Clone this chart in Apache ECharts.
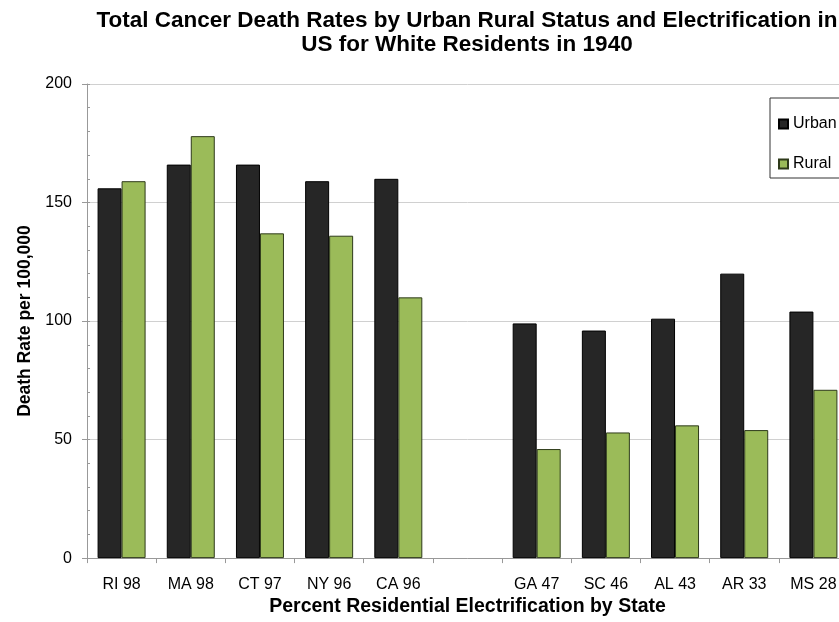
<!DOCTYPE html>
<html>
<head>
<meta charset="utf-8">
<script src="https://cdn.jsdelivr.net/npm/echarts@6/dist/echarts.min.js"></script>
<style>
  html, body { margin: 0; padding: 0; background: #fff; overflow: hidden; }
  /* plot runs a little past the right edge of the picture, so the chart is wider than the window */
  #chart { width: 848px; height: 622px; }
</style>
</head>
<body>
<div id="chart"></div>
<script>
// data, '' is the empty slot between the two groups
var categories = ['RI 98', 'MA 98', 'CT 97', 'NY 96', 'CA 96', '', 'GA 47', 'SC 46', 'AL 43', 'AR 33', 'MS 28'];
var urban = [156, 166, 166, 159, 160, null, 99, 96, 101, 120, 104];
var rural = [159, 178, 137, 136, 110, null, 46, 53, 56, 54, 71];
var yTicks = [0, 50, 100, 150, 200];

var fontFam = "'Liberation Sans', Arial, sans-serif";

function createBar() {
  return {
    animation: false,
    backgroundColor: '#fff',
    title: {
      text: 'Total Cancer Death Rates by Urban Rural Status and Electrification in\nUS for White Residents in 1940',
      left: 462,
      top: 4,
      textAlign: 'center',
      textStyle: {
        fontFamily: fontFam,
        fontSize: 22.5,
        fontWeight: 'bold',
        color: '#000',
        lineHeight: 24,
      },
    },
    legend: {
      orient: 'vertical',
      left: 770,
      top: 98,
      padding: [18, 10, 6, 8],
      itemGap: 24,
      itemWidth: 9,
      itemHeight: 9,
      borderColor: '#333',
      borderWidth: 1,
      textStyle: {
        fontFamily: fontFam,
        fontSize: 16,
        color: '#000',
      },
      data: [
        { name: 'Urban', icon: 'rect' },
        { name: 'Rural', icon: 'rect' },
      ],
    },
    grid: {
      left: 87,
      right: 0,
      top: 84,
      bottom: 63,
      containLabel: false,
    },
    xAxis: {
      type: 'category',
      data: categories,
      name: 'Percent Residential Electrification by State',
      nameLocation: 'middle',
      nameGap: 36,
      nameTextStyle: {
        fontFamily: fontFam,
        fontSize: 19.5,
        fontWeight: 'bold',
        color: '#000',
      },
      axisLine: { lineStyle: { color: '#999', width: 1 } },
      axisTick: { show: true, length: 5, alignWithLabel: false, lineStyle: { color: '#999' } },
      axisLabel: {
        margin: 18,
        interval: 0,
        fontFamily: fontFam,
        fontSize: 16,
        color: '#000',
      },
    },
    yAxis: [
      {
        type: 'value',
        min: yTicks[0],
        max: yTicks[yTicks.length - 1],
        interval: 50,
        name: 'Death Rate per 100,000',
        nameLocation: 'middle',
        nameGap: 52,
        nameRotate: 90,
        nameTextStyle: {
          fontFamily: fontFam,
          fontSize: 17.5,
          fontWeight: 'bold',
          color: '#000',
        },
        axisLine: { show: true, lineStyle: { color: '#999', width: 1 } },
        axisTick: { show: true, length: 5, lineStyle: { color: '#999' } },
        axisLabel: {
          margin: 15,
          fontFamily: fontFam,
          fontSize: 16,
          color: '#000',
        },
        splitLine: { show: true, lineStyle: { color: '#d0d0d0', width: 1 } },
      },
      {
        // minor ticks every 10, drawn inside the axis
        type: 'value',
        position: 'left',
        min: yTicks[0],
        max: yTicks[yTicks.length - 1],
        interval: 10,
        axisLine: { show: false },
        axisTick: { show: true, inside: true, length: 3, lineStyle: { color: '#999' } },
        axisLabel: { show: false },
        splitLine: { show: false },
      },
    ],
    series: [
      {
        name: 'Urban',
        type: 'bar',
        data: urban,
        barWidth: 24,
        barGap: '0%',
        itemStyle: { color: '#262626', borderColor: '#000', borderWidth: 1 },
      },
      {
        name: 'Rural',
        type: 'bar',
        data: rural,
        barWidth: 24,
        barGap: '0%',
        itemStyle: { color: '#9bbb59', borderColor: '#2e3a1a', borderWidth: 1 },
      },
    ],
  };
}

var echart = echarts.init(document.getElementById('chart'));
echart.setOption(createBar());
</script>
</body>
</html>
